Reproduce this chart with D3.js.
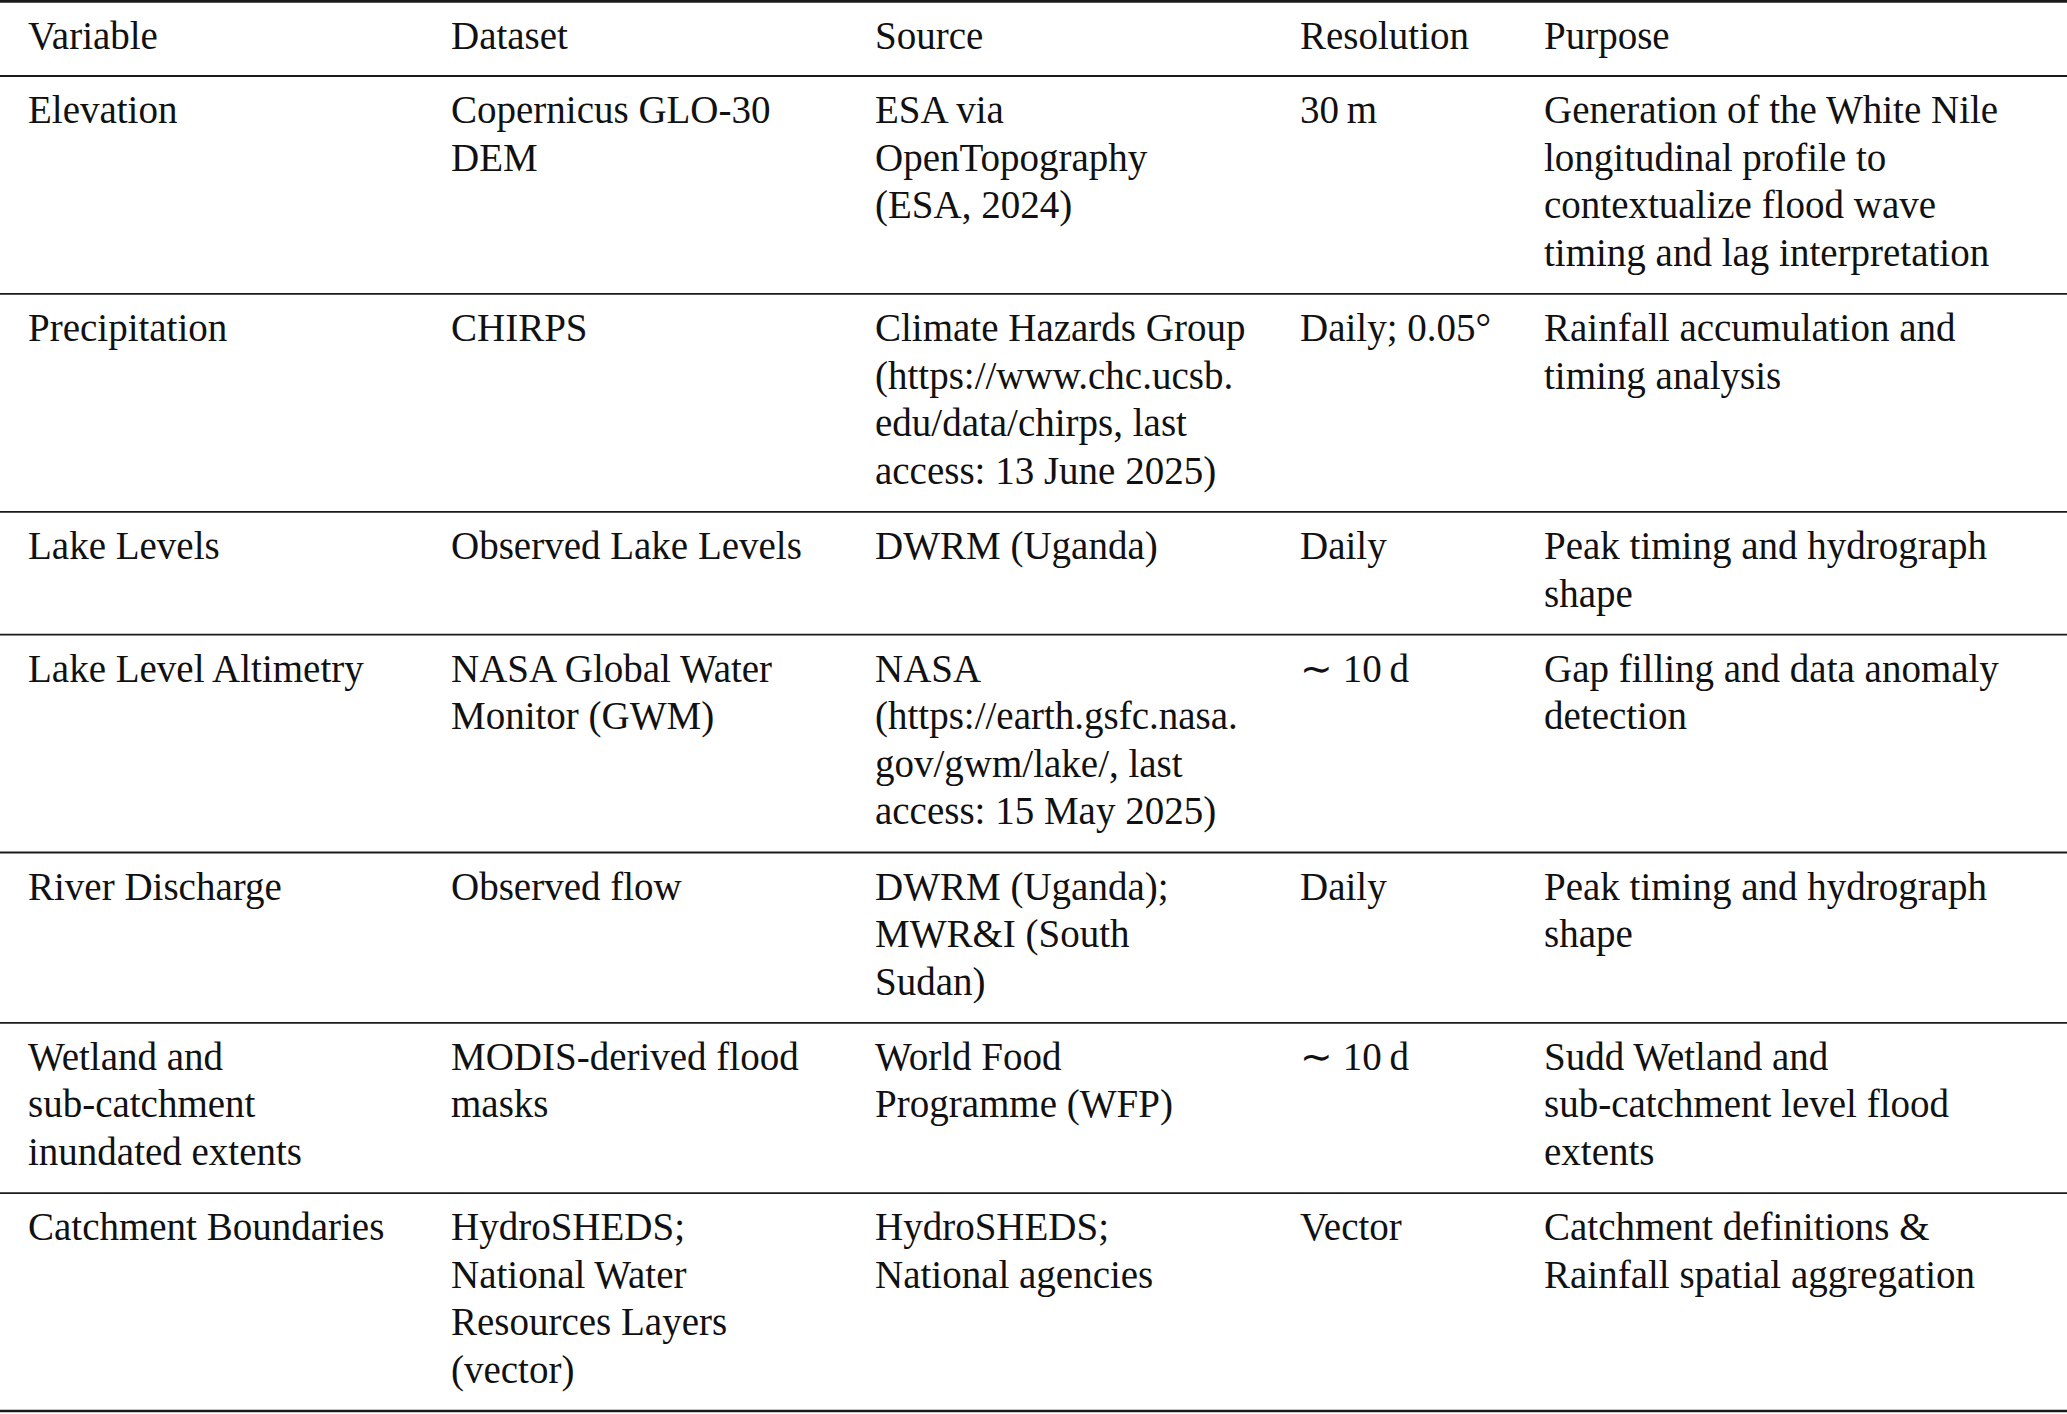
<!DOCTYPE html>
<html>
<head>
<meta charset="utf-8">
<script src="https://cdn.jsdelivr.net/npm/d3@7"></script>
<style>
  body { margin: 0; background: #fff; }
  text { font-family: "Liberation Serif", "Times New Roman", serif; fill: #111; }
</style>
</head>
<body>
<svg id="canvas"></svg>
<script>
"use strict";

// table content, one array per column, each cell split into its printed lines
const headers = ["Variable", "Dataset", "Source", "Resolution", "Purpose"];

const variables = [
    ["Elevation"],
    ["Precipitation"],
    ["Lake Levels"],
    ["Lake Level Altimetry"],
    ["River Discharge"],
    ["Wetland and", "sub-catchment", "inundated extents"],
    ["Catchment Boundaries"]
];

const datasets = [
    ["Copernicus GLO-30", "DEM"],
    ["CHIRPS"],
    ["Observed Lake Levels"],
    ["NASA Global Water", "Monitor (GWM)"],
    ["Observed flow"],
    ["MODIS-derived flood", "masks"],
    ["HydroSHEDS;", "National Water", "Resources Layers", "(vector)"]
];

const sources = [
    ["ESA via", "OpenTopography", "(ESA, 2024)"],
    ["Climate Hazards Group", "(https://www.chc.ucsb.", "edu/data/chirps, last", "access: 13 June 2025)"],
    ["DWRM (Uganda)"],
    ["NASA", "(https://earth.gsfc.nasa.", "gov/gwm/lake/, last", "access: 15 May 2025)"],
    ["DWRM (Uganda);", "MWR&I (South", "Sudan)"],
    ["World Food", "Programme (WFP)"],
    ["HydroSHEDS;", "National agencies"]
];

const resolutions = [
    ["30\u2009m"],
    ["Daily; 0.05\u00B0"],
    ["Daily"],
    ["\u223C 10\u2009d"],
    ["Daily"],
    ["\u223C 10\u2009d"],
    ["Vector"]
];

const purposes = [
    ["Generation of the White Nile", "longitudinal profile to", "contextualize flood wave", "timing and lag interpretation"],
    ["Rainfall accumulation and", "timing analysis"],
    ["Peak timing and hydrograph", "shape"],
    ["Gap filling and data anomaly", "detection"],
    ["Peak timing and hydrograph", "shape"],
    ["Sudd Wetland and", "sub-catchment level flood", "extents"],
    ["Catchment definitions &", "Rainfall spatial aggregation"]
];

let width = 2067;
let height = 1414;
let fontSize = 39;
let lineGap = 47.65;   // baseline to baseline
let padTop = 47;       // rule to first baseline
let padBottom = 28;    // last baseline to rule

let canvas = d3.select('#canvas')
canvas.attr('width', width)
    .attr('height', height);

const columns = [variables, datasets, sources, resolutions, purposes];

let xScale = d3.scaleOrdinal()
    .domain(d3.range(headers.length))
    .range([28, 451, 875, 1300, 1544]);

// work out where each row starts from how many lines it needs
let rows = variables.map((v, i) => {
    return {
        index: i,
        cells: columns.map(col => col[i]),
        n: d3.max(columns, col => col[i].length)
    };
});

let headerRule = 76;
let ruleY = [headerRule];
rows.forEach((r) => {
    let top = ruleY[ruleY.length - 1];
    r.top = top;
    ruleY.push(top + padTop + (r.n - 1) * lineGap + padBottom);
});

const drawRules = () => {
    canvas.append('line')
        .attr('x1', 0).attr('x2', width)
        .attr('y1', 1.4).attr('y2', 1.4)
        .attr('stroke', '#1a1a1a')
        .attr('stroke-width', 2.6);

    canvas.selectAll('line.mid')
        .data(ruleY.slice(0, -1))
        .enter()
        .append('line')
        .attr('class', 'mid')
        .attr('x1', 0).attr('x2', width)
        .attr('y1', d => d).attr('y2', d => d)
        .attr('stroke', '#1a1a1a')
        .attr('stroke-width', 1.8);

    let last = ruleY[ruleY.length - 1];
    canvas.append('line')
        .attr('x1', 0).attr('x2', width)
        .attr('y1', last).attr('y2', last)
        .attr('stroke', '#1a1a1a')
        .attr('stroke-width', 2.6);
};

const drawHeader = () => {
    canvas.selectAll('text.head')
        .data(headers)
        .enter()
        .append('text')
        .attr('class', 'head')
        .attr('x', (d, i) => xScale(i))
        .attr('y', 49)
        .attr('font-size', fontSize)
        .text(d => d);
};

const drawCells = () => {
    let rowG = canvas.selectAll('g.row')
        .data(rows)
        .enter()
        .append('g')
        .attr('class', 'row')
        .attr('transform', d => 'translate(0,' + (d.top + padTop) + ')');

    let cellG = rowG.selectAll('g.cell')
        .data(d => d.cells)
        .enter()
        .append('g')
        .attr('class', 'cell')
        .attr('transform', (d, i) => 'translate(' + xScale(i) + ',0)');

    cellG.selectAll('text')
        .data(d => d)
        .enter()
        .append('text')
        .attr('x', 0)
        .attr('y', (d, i) => i * lineGap)
        .attr('font-size', fontSize)
        .text(d => d);
};

drawRules();
drawHeader();
drawCells();
</script>
</body>
</html>
